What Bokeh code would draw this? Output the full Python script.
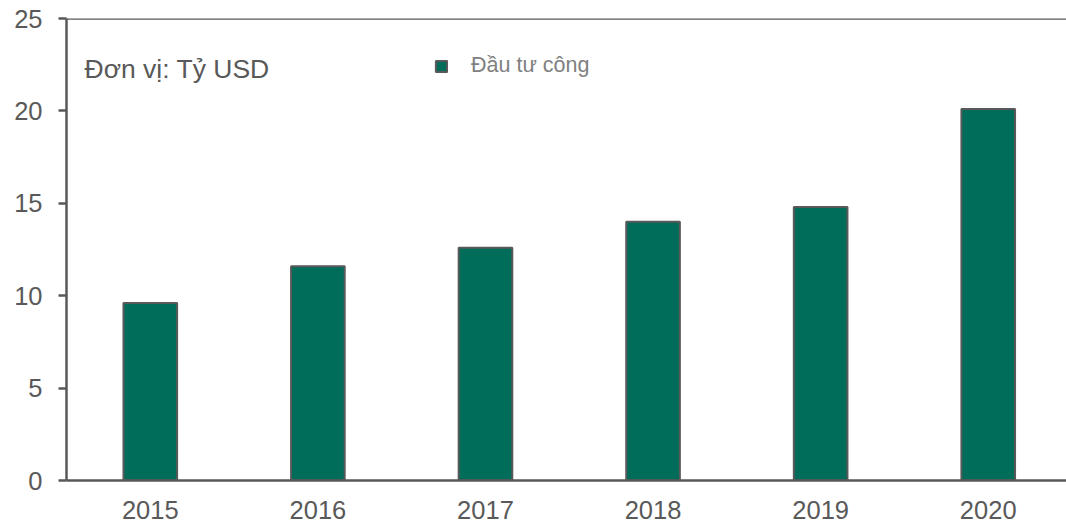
from bokeh.plotting import figure
from bokeh.models import ColumnDataSource, Range1d, FixedTicker, Label, Legend, LegendItem, Span
from bokeh.embed import file_html
from bokeh.resources import INLINE

years = ["2015", "2016", "2017", "2018", "2019", "2020"]
values = [9.6, 11.6, 12.6, 14.0, 14.8, 20.1]
series_name = "Đầu tư công"
unit_text = "Đơn vị: Tỷ USD"
y_ticks = [0, 5, 10, 15, 20, 25]

FONT = "Liberation Sans"
GREY = "#595959"
BAR = "#006D5B"

xs = list(range(len(years)))
src = ColumnDataSource(dict(x=xs, top=values, year=years))

p = figure(width=1066, height=526, output_backend="svg", toolbar_location=None,
           x_range=Range1d(-0.5, 5.467), y_range=Range1d(0, 25),
           min_border_left=66, min_border_right=0, min_border_top=18, min_border_bottom=46)
p.outline_line_color = None
p.background_fill_color = "white"
p.border_fill_color = "white"

r = p.vbar(x="x", top="top", width=0.32, source=src, fill_color=BAR,
           line_color=GREY, line_width=2)

p.xgrid.visible = False
p.ygrid.visible = False
top_line = Span(location=25, dimension="width", line_color=GREY, line_width=2.5)
p.add_layout(top_line)

p.xaxis.ticker = FixedTicker(ticks=xs)
p.xaxis.major_label_overrides = {i: y for i, y in zip(xs, years)}
p.xaxis.major_tick_line_color = None
p.xaxis.minor_tick_line_color = None
p.xaxis.axis_line_color = GREY
p.xaxis.axis_line_width = 2.5
p.xaxis.major_label_text_font = FONT
p.xaxis.major_label_text_font_size = "25.5px"
p.xaxis.major_label_text_color = GREY
p.xaxis.major_label_standoff = 14

p.yaxis.ticker = FixedTicker(ticks=y_ticks)
p.yaxis.minor_tick_line_color = None
p.yaxis.axis_line_color = GREY
p.yaxis.axis_line_width = 2.5
p.yaxis.major_tick_line_color = GREY
p.yaxis.major_tick_line_width = 2.5
p.yaxis.major_tick_out = 8
p.yaxis.major_tick_in = 0
p.yaxis.major_label_text_font = FONT
p.yaxis.major_label_text_font_size = "25.5px"
p.yaxis.major_label_text_color = GREY
p.yaxis.major_label_standoff = 16

unit_label = Label(x=18, y=412, x_units="screen", y_units="screen", text=unit_text,
                   text_font=FONT, text_font_size="26.5px", text_color=GREY,
                   text_baseline="middle")
p.add_layout(unit_label)

legend = Legend(items=[LegendItem(label=series_name, renderers=[r])],
                location=(368, 402), orientation="horizontal",
                glyph_width=14, glyph_height=14, label_height=24,
                label_standoff=23, padding=0, margin=0, spacing=0,
                border_line_color=None, background_fill_alpha=0,
                label_text_font=FONT, label_text_font_size="21.5px",
                label_text_color="#808080")
p.add_layout(legend)

open("out.html", "w").write(file_html(p, INLINE))
